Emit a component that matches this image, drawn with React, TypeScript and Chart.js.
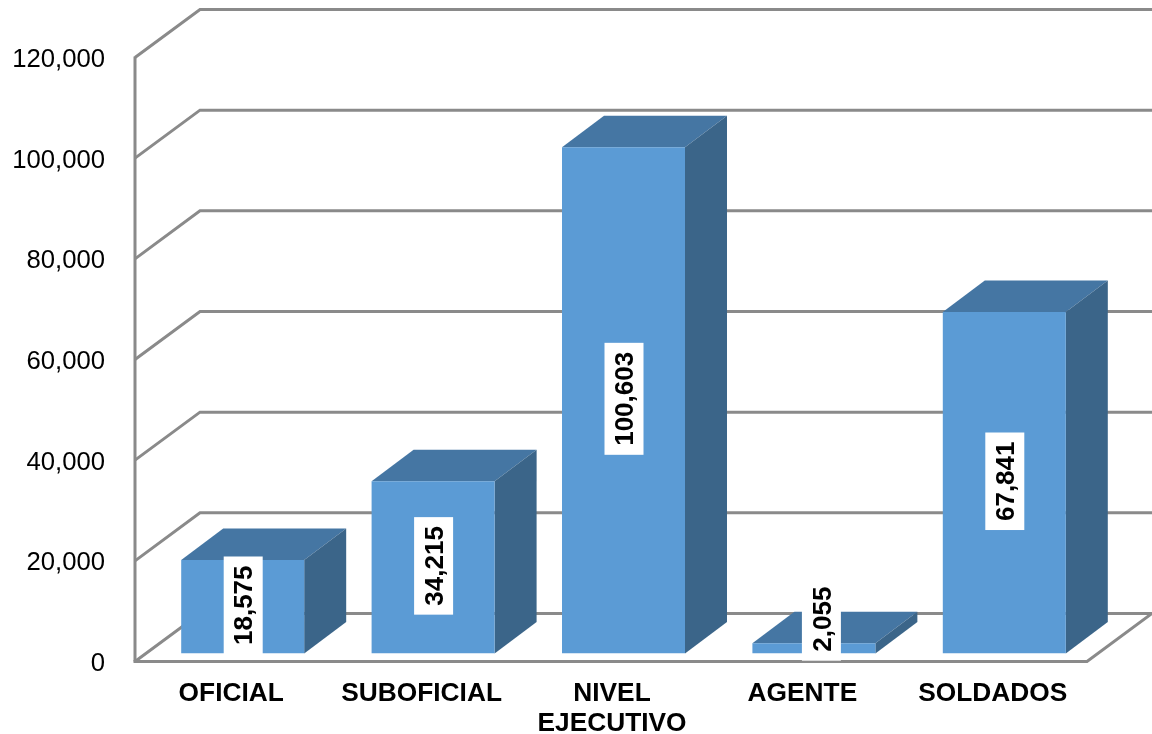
import React, { useEffect, useRef } from "react";
import { Chart, registerables } from "chart.js";

Chart.register(...registerables);

const categories: (string | string[])[] = ["OFICIAL", "SUBOFICIAL", ["NIVEL", "EJECUTIVO"], "AGENTE", "SOLDADOS"];
const values = [18575, 34215, 100603, 2055, 67841];
const yTicks = [0, 20000, 40000, 60000, 80000, 100000, 120000];

const FRONT = "#5B9BD5";
const TOP = "#4576A3";
const SIDE = "#3B6589";
const GRID = "#8A8A8A";
const FONT = '"Liberation Sans", Arial, sans-serif';

// Projection of the 3D box
const WALL_DX = 65;
const WALL_DY = 48;
const BAR_SHIFT_X = 12.5;
const BAR_SHIFT_Y = 8;
const BAR_DX = 42;
const BAR_DY = 31.5;

const fmt = (v: number) => v.toLocaleString("en-US");

const box3d = {
  id: "box3d",
  beforeDatasetsDraw(chart: any) {
    const { ctx, chartArea: a, scales } = chart;
    const y = scales.y;
    ctx.save();
    ctx.strokeStyle = GRID;
    ctx.lineWidth = 3;
    ctx.lineJoin = "miter";
    ctx.lineCap = "butt";
    yTicks.forEach((t) => {
      const py = y.getPixelForValue(t);
      ctx.beginPath();
      ctx.moveTo(a.left, py);
      ctx.lineTo(a.left + WALL_DX, py - WALL_DY);
      ctx.lineTo(a.right + WALL_DX, py - WALL_DY);
      ctx.stroke();
    });
    // left wall edge
    ctx.beginPath();
    ctx.moveTo(a.left, a.top - 1);
    ctx.lineTo(a.left, a.bottom);
    ctx.stroke();
    // floor front and right edges
    ctx.beginPath();
    ctx.moveTo(a.left - 1.5, a.bottom);
    ctx.lineTo(a.right, a.bottom);
    ctx.lineTo(a.right + WALL_DX, a.bottom - WALL_DY);
    ctx.stroke();

    // bar top and side faces
    const meta = chart.getDatasetMeta(0);
    meta.data.forEach((el: any) => {
      const l = el.x - el.width / 2 + BAR_SHIFT_X;
      const r = el.x + el.width / 2 + BAR_SHIFT_X;
      const t = el.y - BAR_SHIFT_Y;
      const b = el.base - BAR_SHIFT_Y;
      ctx.fillStyle = TOP;
      ctx.beginPath();
      ctx.moveTo(l, t);
      ctx.lineTo(l + BAR_DX, t - BAR_DY);
      ctx.lineTo(r + BAR_DX, t - BAR_DY);
      ctx.lineTo(r, t);
      ctx.closePath();
      ctx.fill();
      ctx.fillStyle = SIDE;
      ctx.beginPath();
      ctx.moveTo(r, t);
      ctx.lineTo(r + BAR_DX, t - BAR_DY);
      ctx.lineTo(r + BAR_DX, b - BAR_DY);
      ctx.lineTo(r, b);
      ctx.closePath();
      ctx.fill();
    });
    ctx.restore();
    ctx.save();
    ctx.translate(BAR_SHIFT_X, -BAR_SHIFT_Y);
  },
  afterDatasetsDraw(chart: any) {
    const { ctx } = chart;
    ctx.restore();
    const meta = chart.getDatasetMeta(0);
    ctx.save();
    ctx.font = `bold 26px ${FONT}`;
    ctx.textAlign = "center";
    ctx.textBaseline = "middle";
    meta.data.forEach((el: any, i: number) => {
      const text = fmt(values[i]);
      const t = el.y - BAR_SHIFT_Y;
      const b = el.base - BAR_SHIFT_Y;
      const thin = b - t < 40;
      const cx = el.x + BAR_SHIFT_X + 0.5 + (thin ? 7 : 0);
      const cy = thin ? t - 24 : (t + b) / 2 - 1.5;
      const len = ctx.measureText(text).width + 18;
      ctx.fillStyle = "#FFFFFF";
      ctx.fillRect(cx - 19.5, cy - len / 2, 39, len);
      ctx.save();
      ctx.translate(cx + 1, cy);
      ctx.rotate(-Math.PI / 2);
      ctx.fillStyle = "#000000";
      ctx.fillText(text, 0, 1);
      ctx.restore();
    });
    ctx.restore();
  },
};

export default function App() {
  const ref = useRef<HTMLCanvasElement>(null);
  useEffect(() => {
    const chart = new Chart(ref.current!, {
      type: "bar",
      data: {
        labels: categories as any,
        datasets: [
          {
            data: values,
            backgroundColor: FRONT,
            borderWidth: 0,
            categoryPercentage: 1,
            barPercentage: 0.646,
          },
        ],
      },
      plugins: [box3d],
      options: {
        responsive: false,
        animation: false,
        devicePixelRatio: 1,
        layout: { autoPadding: false, padding: { top: 57.5, right: 65, left: 0, bottom: 0 } },
        plugins: { legend: { display: false }, tooltip: { enabled: false } },
        scales: {
          x: {
            grid: { display: false },
            border: { display: false },
            afterFit: (s: any) => {
              s.height = 72.5;
            },
            ticks: {
              color: "#000000",
              maxRotation: 0,
              autoSkip: false,
              padding: 9,
              labelOffset: 1,
              font: { family: FONT, size: 26.3, weight: "bold", lineHeight: 1.15 },
            },
          },
          y: {
            min: 0,
            max: 120000,
            grid: { display: false },
            border: { display: false },
            afterFit: (s: any) => {
              s.width = 135;
            },
            afterBuildTicks: (s: any) => {
              s.ticks = yTicks.map((value) => ({ value }));
            },
            ticks: {
              color: "#000000",
              padding: 22,
              labelOffset: 2.5,
              font: { family: FONT, size: 25.7 },
              callback: (v: any) => fmt(Number(v)),
            },
          },
        },
      },
    } as any);
    return () => chart.destroy();
  }, []);
  return (
    <div style={{ position: "fixed", left: 0, top: 0, width: 1152, height: 734, background: "#fff" }}>
      <canvas ref={ref} width={1152} height={734} style={{ display: "block" }} />
    </div>
  );
}
